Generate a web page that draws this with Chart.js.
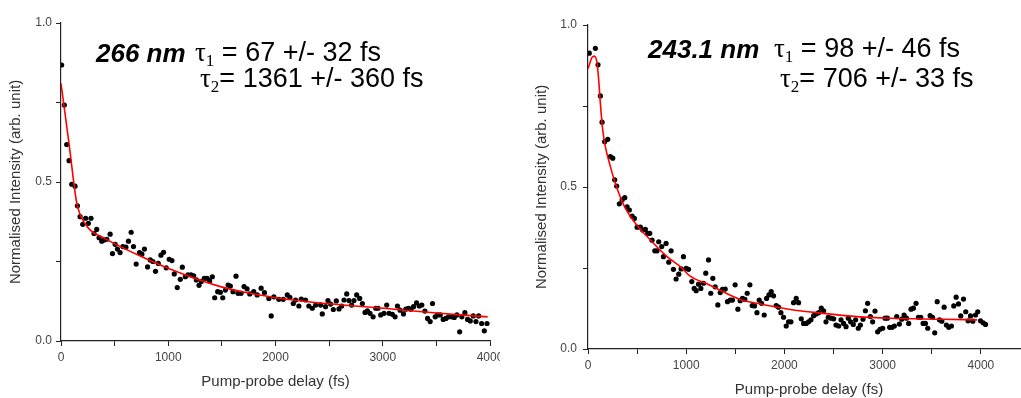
<!DOCTYPE html>
<html>
<head>
<meta charset="utf-8">
<script src="https://cdn.jsdelivr.net/npm/chart.js@4.4.1/dist/chart.umd.min.js"></script>
<style>
  html, body { margin: 0; padding: 0; background: #fff; width: 1021px; height: 398px; overflow: hidden; }
  .wrap { position: absolute; top: 0; height: 398px; overflow: hidden; }
  #leftWrap { left: 0; width: 500px; }
  #rightWrap { left: 515px; width: 506px; }
  .note { position: absolute; font-family: "Liberation Sans", Arial, sans-serif; font-size: 26px; line-height: 26px; color: #000; white-space: nowrap; }
  .note.fit { font-size: 27px; }
  .note b { font-style: italic; }
  .tau { font-family: "Liberation Serif", "Times New Roman", serif; }
  .tau sub { font-size: 17px; vertical-align: -5px; line-height: 0; }
</style>
</head>
<body>
<div class="wrap" id="leftWrap"><canvas id="leftChart" width="520" height="398"></canvas></div>
<div class="wrap" id="rightWrap"><canvas id="rightChart" width="530" height="398"></canvas></div>

<div class="note" style="left:96px; top:40px;"><b>266 nm</b></div>
<div class="note fit" style="left:195px; top:39px;"><span class="tau">τ<sub>1</sub></span> = 67 +/- 32 fs</div>
<div class="note fit" style="left:200px; top:65px;"><span class="tau">τ<sub>2</sub></span>= 1361 +/- 360 fs</div>

<div class="note" style="left:648px; top:36px;"><b>243.1 nm</b></div>
<div class="note fit" style="left:774px; top:35px;"><span class="tau">τ<sub>1</sub></span> = 98 +/- 46 fs</div>
<div class="note fit" style="left:780px; top:65px;"><span class="tau">τ<sub>2</sub></span>= 706 +/- 33 fs</div>

<script>
// tick labels
const delayTicks = [0, 1000, 2000, 3000, 4000];
const intensityTicks = [0.0, 0.5, 1.0];

// 266 nm: measured points [delay fs, normalised intensity]
const points266 = [
  [6,0.868],[31,0.742],[53,0.618],[75,0.567],[100,0.493],[131,0.487],[153,0.425],[178,0.391],
  [203,0.367],[230,0.386],[255,0.370],[280,0.386],[308,0.338],[333,0.351],[355,0.325],[380,0.314],
  [402,0.318],[427,0.320],[458,0.336],[480,0.275],[505,0.304],[526,0.289],[551,0.278],[577,0.297],
  [605,0.295],[629,0.314],[654,0.342],[676,0.297],[701,0.242],[732,0.278],[754,0.273],[778,0.289],
  [807,0.233],[832,0.255],[857,0.250],[881,0.219],[907,0.244],[932,0.270],[956,0.279],[981,0.230],
  [1009,0.257],[1034,0.253],[1056,0.211],[1084,0.168],[1112,0.194],[1131,0.232],[1159,0.202],[1184,0.208],
  [1212,0.208],[1237,0.205],[1262,0.192],[1287,0.175],[1308,0.187],[1336,0.197],[1362,0.197],[1386,0.189],
  [1411,0.202],[1433,0.136],[1461,0.155],[1486,0.153],[1508,0.136],[1533,0.160],[1558,0.176],[1579,0.173],
  [1604,0.155],[1632,0.204],[1651,0.150],[1679,0.150],[1707,0.171],[1735,0.164],[1760,0.148],[1797,0.155],
  [1829,0.145],[1866,0.166],[1897,0.152],[1938,0.134],[1960,0.079],[1985,0.139],[2031,0.131],[2072,0.131],
  [2110,0.145],[2134,0.137],[2166,0.118],[2187,0.129],[2218,0.110],[2240,0.132],[2280,0.129],[2311,0.110],
  [2343,0.103],[2374,0.113],[2421,0.113],[2436,0.085],[2467,0.108],[2489,0.127],[2514,0.116],[2539,0.099],
  [2567,0.126],[2592,0.101],[2617,0.110],[2639,0.129],[2664,0.148],[2685,0.127],[2710,0.113],[2732,0.127],
  [2757,0.145],[2785,0.134],[2810,0.118],[2835,0.090],[2857,0.095],[2881,0.087],[2910,0.076],[2935,0.103],
  [2956,0.103],[2981,0.082],[3012,0.087],[3037,0.113],[3059,0.087],[3090,0.084],[3115,0.076],[3137,0.110],
  [3162,0.097],[3193,0.085],[3215,0.100],[3240,0.103],[3262,0.100],[3287,0.108],[3315,0.120],[3340,0.110],
  [3364,0.113],[3393,0.094],[3418,0.071],[3442,0.061],[3464,0.118],[3489,0.076],[3511,0.082],[3536,0.082],
  [3564,0.068],[3589,0.071],[3614,0.076],[3642,0.076],[3667,0.074],[3692,0.082],[3717,0.029],[3738,0.076],
  [3766,0.089],[3791,0.068],[3816,0.063],[3844,0.079],[3869,0.061],[3894,0.079],[3922,0.055],[3947,0.032],
  [3972,0.055]
];
// 266 nm: fit curve
const fit266 = [
  [0,0.81],[75,0.62],[146,0.435],[178,0.398],[255,0.355],[411,0.322],[785,0.26],[1003,0.228],
  [1486,0.171],[1766,0.15],[1985,0.137],[2500,0.117],[3012,0.103],[3500,0.088],[3978,0.076]
];

// 243.1 nm: measured points
const points243 = [
  [13,0.913],[75,0.928],[102,0.877],[126,0.781],[143,0.700],[170,0.640],[201,0.647],[227,0.594],
  [252,0.589],[272,0.522],[292,0.503],[319,0.448],[347,0.460],[374,0.467],[398,0.439],[421,0.429],
  [449,0.410],[472,0.403],[500,0.376],[533,0.376],[557,0.367],[584,0.369],[608,0.357],[629,0.357],
  [652,0.336],[680,0.303],[703,0.303],[720,0.331],[751,0.316],[768,0.285],[795,0.326],[822,0.268],
  [846,0.303],[870,0.246],[897,0.216],[924,0.231],[948,0.247],[972,0.285],[999,0.249],[1023,0.246],
  [1057,0.208],[1081,0.187],[1101,0.180],[1125,0.200],[1149,0.187],[1176,0.203],[1199,0.234],[1227,0.275],
  [1250,0.172],[1271,0.218],[1295,0.192],[1322,0.136],[1346,0.174],[1369,0.184],[1397,0.185],[1420,0.146],
  [1448,0.151],[1471,0.151],[1498,0.198],[1526,0.123],[1549,0.149],[1573,0.156],[1597,0.153],[1621,0.172],
  [1648,0.198],[1672,0.134],[1695,0.133],[1720,0.112],[1743,0.151],[1767,0.141],[1794,0.105],[1818,0.156],
  [1842,0.167],[1865,0.177],[1889,0.164],[1916,0.134],[1940,0.129],[1964,0.112],[1991,0.098],[2018,0.071],
  [2042,0.084],[2066,0.084],[2093,0.143],[2120,0.156],[2144,0.143],[2171,0.093],[2195,0.079],[2222,0.079],
  [2246,0.084],[2270,0.090],[2297,0.103],[2324,0.108],[2348,0.112],[2375,0.126],[2399,0.118],[2423,0.084],
  [2446,0.098],[2474,0.095],[2501,0.093],[2525,0.074],[2552,0.071],[2576,0.090],[2602,0.079],[2627,0.069],
  [2650,0.095],[2674,0.084],[2701,0.076],[2725,0.090],[2752,0.064],[2773,0.074],[2800,0.092],[2824,0.118],
  [2847,0.141],[2875,0.100],[2898,0.084],[2922,0.117],[2949,0.053],[2973,0.061],[3000,0.064],[3024,0.095],
  [3048,0.095],[3071,0.067],[3096,0.067],[3119,0.071],[3143,0.100],[3170,0.077],[3194,0.092],[3218,0.105],
  [3242,0.095],[3265,0.079],[3289,0.123],[3313,0.126],[3340,0.141],[3364,0.098],[3388,0.098],[3412,0.079],
  [3435,0.079],[3459,0.064],[3483,0.103],[3507,0.098],[3530,0.050],[3555,0.146],[3578,0.090],[3602,0.086],
  [3626,0.129],[3649,0.074],[3673,0.067],[3700,0.071],[3724,0.133],[3748,0.160],[3772,0.139],[3795,0.102],
  [3823,0.154],[3846,0.115],[3870,0.087],[3894,0.102],[3918,0.086],[3945,0.105],[3968,0.115],[3996,0.087],
  [4023,0.081],[4047,0.076]
];
const fit243 = [
  [0,0.865],[41,0.90],[65,0.904],[92,0.882],[109,0.83],[126,0.758],[150,0.676],[177,0.624],
  [228,0.563],[279,0.511],[364,0.444],[482,0.388],[618,0.342],[788,0.29],[958,0.249],[1040,0.225],
  [1220,0.2],[1549,0.153],[1720,0.141],[2059,0.122],[2400,0.11],[2735,0.1],[3078,0.095],[3588,0.092],
  [3962,0.09]
];

const axisColor = "#222";
const textColor = "#444";
const fontFamily = "'Liberation Sans', Arial, sans-serif";

function toXY(arr) {
  return arr.map(p => ({ x: p[0], y: p[1] }));
}

function makeChart(id, pts, fit, opt) {
  const ctx = document.getElementById(id).getContext("2d");
  return new Chart(ctx, {
    type: "scatter",
    data: {
      datasets: [
        {
          data: toXY(fit),
          showLine: true,
          borderColor: "#ff0000",
          borderWidth: 1.6,
          pointRadius: 0,
          cubicInterpolationMode: "monotone",
        },
        {
          data: toXY(pts),
          backgroundColor: "#000",
          borderWidth: 0,
          pointRadius: 2.6,
        },
      ],
    },
    options: {
      responsive: false,
      devicePixelRatio: 1,
      animation: false,
      layout: { padding: { top: opt.padTop, right: opt.padRight, left: 0, bottom: 0 } },
      plugins: { legend: { display: false }, tooltip: { enabled: false } },
      scales: {
        x: {
          type: "linear",
          min: 0,
          max: opt.xMax,
          afterFit: (s) => { s.height = opt.xAxisH; },
          border: { display: true, color: axisColor, width: 1.2 },
          grid: { drawOnChartArea: false, drawTicks: true, tickLength: 5, tickColor: axisColor },
          ticks: {
            stepSize: 500,
            autoSkip: false,
            maxRotation: 0,
            padding: 4,
            color: textColor,
            font: { family: fontFamily, size: 12 },
            callback: (v) => (delayTicks.includes(v) ? String(v) : ""),
          },
          title: {
            display: true,
            text: "Pump-probe delay (fs)",
            color: "#333",
            font: { family: fontFamily, size: 15, lineHeight: 1 },
            padding: { top: 0, bottom: opt.xTitlePad },
          },
        },
        y: {
          type: "linear",
          min: 0,
          max: 1,
          afterFit: (s) => { s.width = opt.yAxisW; },
          border: { display: true, color: axisColor, width: 1.2 },
          grid: { drawOnChartArea: false, drawTicks: true, tickLength: 5, tickColor: axisColor },
          ticks: {
            stepSize: 0.25,
            autoSkip: false,
            padding: opt.yTickPad,
            color: textColor,
            font: { family: fontFamily, size: 12 },
            callback: (v) => (intensityTicks.includes(v) ? v.toFixed(1) : ""),
          },
          title: {
            display: true,
            text: "Normalised Intensity (arb. unit)",
            color: "#333",
            font: { family: fontFamily, size: 15, lineHeight: 1 },
            padding: { top: opt.yTitlePad, bottom: 0 },
          },
        },
      },
    },
  });
}

const chart266 = makeChart("leftChart", points266, fit266, {
  xMax: 4000, padTop: 23, padRight: 30, xAxisH: 57, yAxisW: 61,
  xTitlePad: 9, yTitlePad: 8, yTickPad: 4,
});

const chart243 = makeChart("rightChart", points243, fit243, {
  xMax: 4500, padTop: 25, padRight: 15, xAxisH: 49, yAxisW: 73,
  xTitlePad: 1, yTitlePad: 19, yTickPad: 6,
});
</script>
</body>
</html>
